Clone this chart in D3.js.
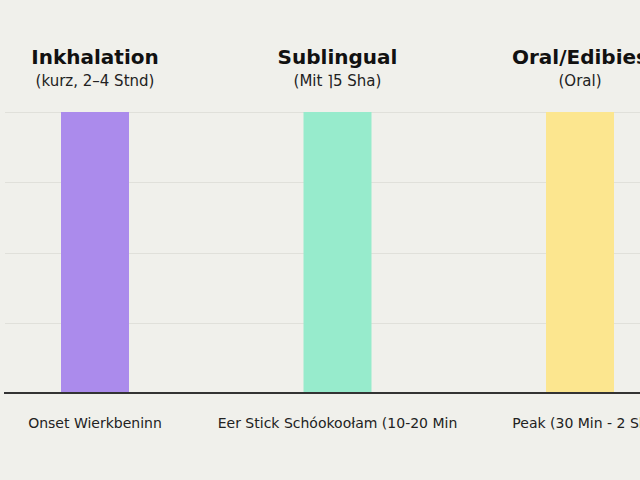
<!DOCTYPE html>
<html>
<head>
<meta charset="utf-8">
<script src="https://cdn.jsdelivr.net/npm/d3@7"></script>
<style>
  html, body { margin: 0; padding: 0; background: #f0f0eb; }
  svg { display: block; }
</style>
</head>
<body>
<div id="chart"></div>
<script>
const categories = ["Inkhalation", "Sublingual", "Oral/Edibies"];
const subtitles = ["(kurz,  2–4 Stnd)", "(Mit ⌉5 Sha)", "(Oral)"];
const bottomLabels = ["Onset Wierkbeninn", "Eer Stick Schóokoołam (10-20 Min", "Peak (30 Min - 2 Sh"];
const values = [4, 4, 4];
const colors = ["#ab8bec", "#97ebcc", "#fce68f"];
const yTicks = [1, 2, 3, 4];

const width = 640;
const height = 480;
const baseY = 393;
const topY = 112;
const barWidth = 68;

const svg = d3.select("#chart")
  .append("svg")
  .attr("width", width)
  .attr("height", height);

svg.append("rect")
  .attr("width", width)
  .attr("height", height)
  .attr("fill", "#f0f0eb");

const x = d3.scalePoint()
  .domain(categories)
  .range([95, 580]);

const y = d3.scaleLinear()
  .domain([0, 4])
  .range([baseY, topY]);

// gridlines
svg.append("g")
  .selectAll("line")
  .data(yTicks)
  .join("line")
  .attr("x1", 5)
  .attr("x2", width)
  .attr("y1", d => Math.round(y(d)) + 0.5)
  .attr("y2", d => Math.round(y(d)) + 0.5)
  .attr("stroke", "#e0e0da")
  .attr("stroke-width", 1);

// bars
svg.append("g")
  .selectAll("rect")
  .data(categories)
  .join("rect")
  .attr("x", d => x(d) - barWidth / 2)
  .attr("y", (d, i) => y(values[i]))
  .attr("width", barWidth)
  .attr("height", (d, i) => y(0) - y(values[i]))
  .attr("fill", (d, i) => colors[i]);

// baseline
svg.append("line")
  .attr("x1", 4)
  .attr("x2", width)
  .attr("y1", baseY)
  .attr("y2", baseY)
  .attr("stroke", "#333")
  .attr("stroke-width", 2);

const font = "'DejaVu Sans', sans-serif";

// titles
svg.append("g")
  .selectAll("text")
  .data(categories)
  .join("text")
  .attr("x", d => x(d))
  .attr("y", 64)
  .attr("text-anchor", "middle")
  .attr("font-family", font)
  .attr("font-weight", "bold")
  .attr("font-size", 20)
  .attr("fill", "#111")
  .text(d => d);

svg.append("g")
  .selectAll("text")
  .data(subtitles)
  .join("text")
  .attr("x", (d, i) => x(categories[i]))
  .attr("y", 86)
  .attr("text-anchor", "middle")
  .attr("font-family", font)
  .attr("font-size", 15)
  .attr("fill", "#222")
  .text(d => d);

svg.append("g")
  .selectAll("text")
  .data(bottomLabels)
  .join("text")
  .attr("x", (d, i) => x(categories[i]))
  .attr("y", 428)
  .attr("text-anchor", "middle")
  .attr("font-family", font)
  .attr("font-size", 14)
  .attr("fill", "#222")
  .text(d => d);
</script>
</body>
</html>
